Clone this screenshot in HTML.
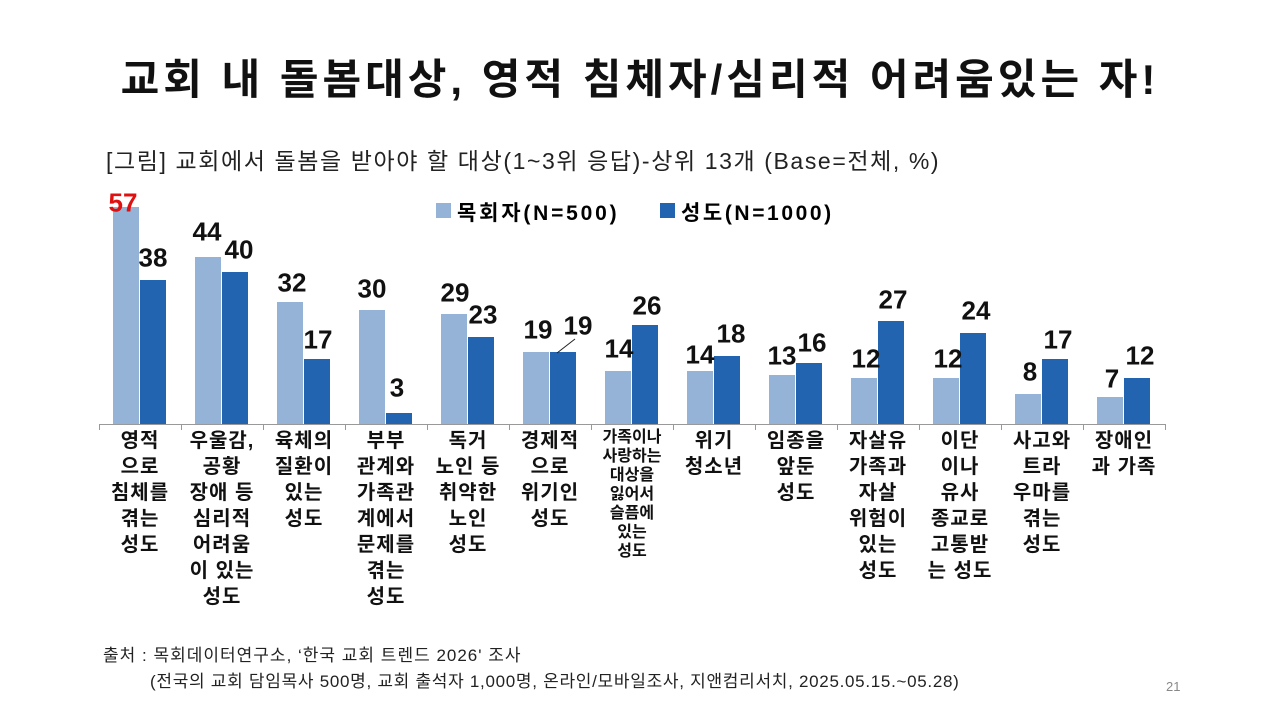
<!DOCTYPE html><html><head><meta charset="utf-8"><style>
body{margin:0;width:1280px;height:720px;background:#fff;position:relative;overflow:hidden;font-family:"Liberation Sans","Noto Sans CJK KR",sans-serif}
.a{position:absolute}
.v{position:absolute;font-weight:bold;font-size:26px;transform:translate(-50%,-50%);color:#111;white-space:nowrap}
.l{position:absolute;width:82px;text-align:center;font-weight:bold;font-size:20px;letter-spacing:1px;line-height:26px;color:#111;top:428px;white-space:nowrap}
.b1{position:absolute;background:#95b3d7;width:26px}
.b2{position:absolute;background:#2264b0;width:26px}
</style></head><body>
<div class="a" style="left:0;width:1280px;top:46px;text-align:center;font-size:42px;letter-spacing:4px;font-weight:bold;color:#111;white-space:nowrap">교회 내 돌봄대상, 영적 침체자/심리적 어려움있는 자!</div>
<div class="a" style="left:106px;top:142px;font-size:23px;letter-spacing:1.6px;color:#222;white-space:nowrap">[그림] 교회에서 돌봄을 받아야 할 대상(1~3위 응답)-상위 13개 (Base=전체, %)</div>
<div class="a" style="left:436px;top:203px;width:15px;height:15px;background:#95b3d7"></div>
<div class="a" style="left:457px;top:197px;font-size:21px;letter-spacing:2.8px;font-weight:bold;white-space:nowrap">목회자(N=500)</div>
<div class="a" style="left:660px;top:203px;width:15px;height:15px;background:#2264b0"></div>
<div class="a" style="left:681px;top:197px;font-size:21px;letter-spacing:2.6px;font-weight:bold;white-space:nowrap">성도(N=1000)</div>
<div id="c"></div>
<div class="a" style="left:99px;top:424px;width:1067px;height:1px;background:#999"></div>
<svg class="a" style="left:0;top:0" width="1280" height="720"><line x1="557" y1="353" x2="575" y2="339" stroke="#222" stroke-width="1"/></svg>
<div class="a" style="left:103px;top:641px;font-size:17px;letter-spacing:1.0px;color:#222;white-space:nowrap">출처 : 목회데이터연구소, ‘한국 교회 트렌드 2026' 조사</div>
<div class="a" style="left:150px;top:667px;font-size:17px;letter-spacing:0.7px;color:#222;white-space:nowrap">(전국의 교회 담임목사 500명, 교회 출석자 1,000명, 온라인/모바일조사, 지앤컴리서치, 2025.05.15.~05.28)</div>
<div class="a" style="left:1166px;top:679px;font-size:13px;color:#888">21</div>
<script>
var p=[57,44,32,30,29,19,14,14,13,12,12,8,7],s=[38,40,17,3,23,19,26,18,16,27,24,17,12];
var L=["영적<br>으로<br>침체를<br>겪는<br>성도","우울감,<br>공황<br>장애 등<br>심리적<br>어려움<br>이 있는<br>성도","육체의<br>질환이<br>있는<br>성도","부부<br>관계와<br>가족관<br>계에서<br>문제를<br>겪는<br>성도","독거<br>노인 등<br>취약한<br>노인<br>성도","경제적<br>으로<br>위기인<br>성도","가족이나<br>사랑하는<br>대상을<br>잃어서<br>슬픔에<br>있는<br>성도","위기<br>청소년","임종을<br>앞둔<br>성도","자살유<br>가족과<br>자살<br>위험이<br>있는<br>성도","이단<br>이나<br>유사<br>종교로<br>고통받<br>는 성도","사고와<br>트라<br>우마를<br>겪는<br>성도","장애인<br>과 가족"];
var V=[[123,203,153,258],[207,232,239,250],[292,283,318,340],[372,289,397,388],[455,293,483,315],[538,330,578,326],[619,349,647,306],[700,355,731,334],[782,356,812,343],[866,359,893,300],[948,359,976,311],[1030,372,1058,340],[1112,379,1140,356]];
var h="";
for(var i=0;i<13;i++){var x=113+82*i;
h+='<div class="b1" style="left:'+x+'px;top:'+(424-p[i]*3.8)+'px;height:'+(p[i]*3.8)+'px"></div>';
h+='<div class="b2" style="left:'+(x+27)+'px;top:'+(424-s[i]*3.8)+'px;height:'+(s[i]*3.8)+'px"></div>';
h+='<div class="v" style="left:'+V[i][0]+'px;top:'+V[i][1]+'px;'+(i==0?'color:#e01010':'')+'">'+p[i]+'</div>';
h+='<div class="v" style="left:'+V[i][2]+'px;top:'+V[i][3]+'px">'+s[i]+'</div>';
h+='<div class="a" style="left:'+(99+82*i)+'px;top:424px;width:1px;height:6px;background:#999"></div>';
var st=i==6?'font-size:16px;line-height:19px;letter-spacing:0;left:'+(95+82*i)+'px;width:90px;':'left:'+(99+82*i)+'px;';
h+='<div class="l" style="'+st+'">'+L[i]+'</div>';}
h+='<div class="a" style="left:1165px;top:424px;width:1px;height:6px;background:#999"></div>';
document.getElementById("c").innerHTML=h;
</script>
</body></html>
